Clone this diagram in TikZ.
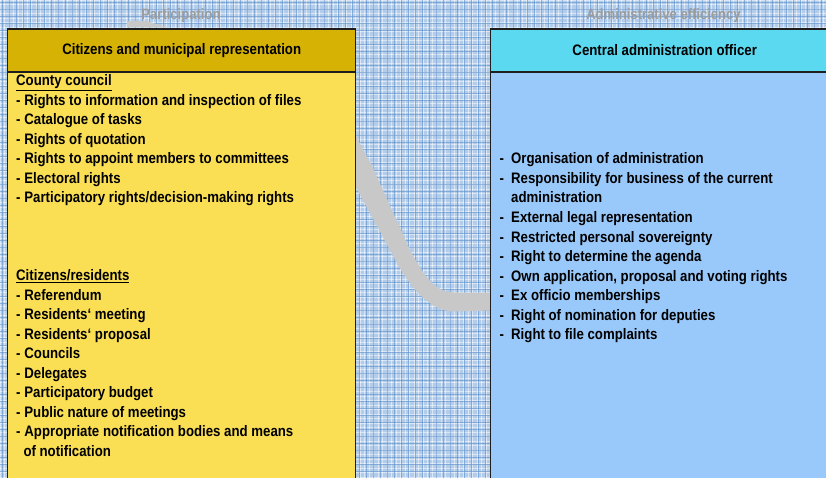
\documentclass[tikz,border=0pt]{standalone}
\usepackage{fontspec}
\setmainfont{Liberation Sans}[FakeStretch=0.87]
\definecolor{bgbase}{HTML}{B2CCE9}
\definecolor{plaidblue}{HTML}{5F93CC}
\definecolor{lheadc}{HTML}{D5B204}
\definecolor{lbodyc}{HTML}{FADF55}
\definecolor{rheadc}{HTML}{5AD9F1}
\definecolor{rbodyc}{HTML}{99C9FA}
\definecolor{bandc}{HTML}{C8C8C8}
\definecolor{lblc}{HTML}{9C9C9C}
\definecolor{edgec}{HTML}{1E1E1E}
\newcommand{\dshL}{\makebox[8.2pt][l]{-}}
\newcommand{\dshR}{\makebox[11.5pt][l]{-}}
\newcommand{\ul}[1]{\underline{#1}}
\begin{document}
\begin{tikzpicture}[x=1pt,y=-1pt,
  txt/.style={font=\fontsize{15.2pt}{19.5pt}\selectfont\bfseries, inner sep=0pt},
  item/.style={txt, anchor=base west},
  headbox/.style={txt, draw=edgec, line width=1.4pt, minimum width=348pt, minimum height=42.4pt, anchor=north west},
  bodybox/.style={draw=edgec, line width=1.4pt, minimum width=348pt, minimum height=440pt, anchor=north west},
  lbl/.style={font=\fontsize{15pt}{18pt}\selectfont\bfseries, text=lblc, inner sep=0pt, anchor=base}]
\useasboundingbox (0,0) rectangle (826,478);
% plaid background
\fill[bgbase] (0,0) rectangle (826,478);
\foreach \x in {0,4.5,...,826} \draw[white, opacity=0.5, line width=0.9pt] (\x,0) -- (\x,478);
\foreach \y in {0,4.5,...,478} \draw[white, opacity=0.5, line width=0.9pt] (0,\y) -- (826,\y);
\foreach \x in {2.2,9.2,...,826} \draw[plaidblue, opacity=0.6, line width=0.9pt] (\x,0) -- (\x,478);
\foreach \y in {2.2,9.2,...,478} \draw[plaidblue, opacity=0.6, line width=0.9pt] (0,\y) -- (826,\y);
% labels
\node[lbl] (part) at (181,20) {Participation};
\node[lbl] (admeff) at (663.5,20) {Administrative efficiency};
\fill[bandc] (127,27.5) -- (127,22.5) .. controls (128,21) .. (134,21) -- (146,21) -- (168,27.5) -- cycle;
% band between boxes
\fill[bandc] (350,126) -- (356,136) -- (372,166) -- (410,250) .. controls (425,278) and (435,292) .. (455,292.5) -- (492,292.5)
  -- (492,310.5) -- (455,311.5) .. controls (432,312) and (412,290) .. (397,263) -- (350,176) -- cycle;
% boxes
\node[headbox, fill=lheadc] (lhead) at (7,28.3) {Citizens and municipal representation};
\node[bodybox, fill=lbodyc] (lbody) at (lhead.south west) {};
\node[headbox, fill=rheadc] (rhead) at (490,28.3) {Central administration officer};
\node[bodybox, fill=rbodyc] (rbody) at (rhead.south west) {};
% left texts
\node[item] (cc) at (16,86) {\ul{County council}};
\foreach \t [count=\i] in {Rights to information and inspection of files, Catalogue of tasks, Rights of quotation, Rights to appoint members to committees, Electoral rights, Participatory rights/decision-making rights}
  \node[item] (cc\i) at (16,86+19.5*\i) {\dshL\t};
\node[item] (cr) at (16,280.5) {\ul{Citizens/residents}};
\foreach \t [count=\i] in {Referendum, Residents‘ meeting, Residents‘ proposal, Councils, Delegates, Participatory budget, Public nature of meetings, Appropriate notification bodies and means}
  \node[item] (cr\i) at (16,280.5+19.5*\i) {\dshL\t};
\node[item] (cr9) at (23.3,456) {of notification};
% right texts
\foreach \t [count=\i] in {Organisation of administration, Responsibility for business of the current}
  \node[item] (ra\i) at (499.5,164+19.5*\i-19.5) {\dshR\t};
\node[item] (ra3) at (511,203) {administration};
\foreach \t [count=\i] in {External legal representation, Restricted personal sovereignty, Right to determine the agenda, {Own application, proposal and voting rights}, Ex officio memberships, Right of nomination for deputies, Right to file complaints}
  \node[item] (rb\i) at (499.5,203+19.5*\i) {\dshR\t};
\end{tikzpicture}
\end{document}
